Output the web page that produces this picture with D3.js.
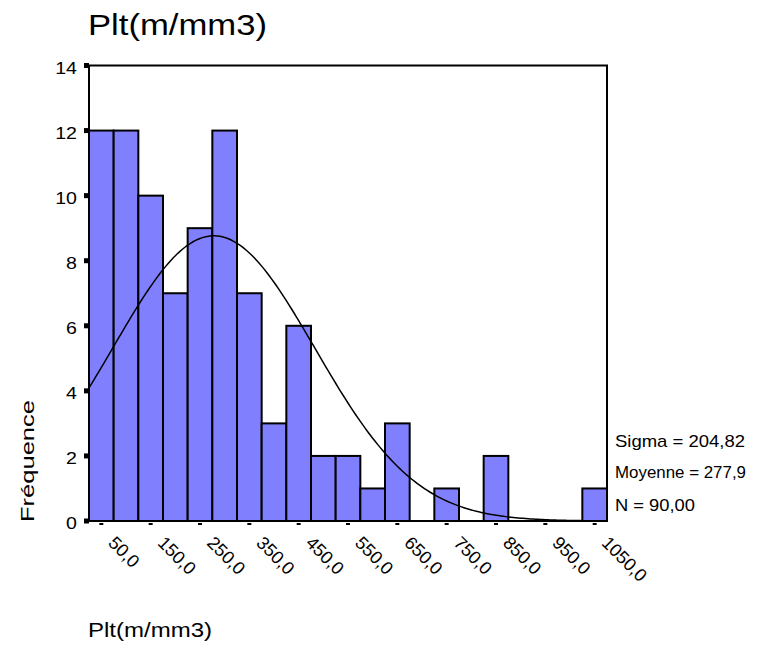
<!DOCTYPE html>
<html>
<head>
<meta charset="utf-8">
<script src="https://cdn.jsdelivr.net/npm/d3@7"></script>
<style>
  html, body { margin: 0; padding: 0; background: #fff; }
  svg { display: block; }
  text { font-family: "Liberation Sans", Arial, sans-serif; fill: #000; }
</style>
</head>
<body>
<svg id="chart" width="765" height="646"></svg>
<script>
// Histogram of platelet counts: bins of width 50, labelled by their midpoints
const binMidpoints = [50,100,150,200,250,300,350,400,450,500,550,600,650,700,750,800,850,900,950,1000,1050];
const frequencies  = [12,12,10,7,9,12,7,3,6,2,2,1,3,0,1,0,2,0,0,0,1];
const xTickValues  = [50,150,250,350,450,550,650,750,850,950,1050];
const yTickValues  = [0,2,4,6,8,10,12,14];
const binWidth = 50;
const stats = { sigma: 204.82, mean: 277.9, n: 90 };
const statLines = ["Sigma = 204,82", "Moyenne = 277,9", "N = 90,00"];
const titleText = "Plt(m/mm3)";
const yLabel = "Fréquence";

const svg = d3.select("#chart");
const plot = { left: 89, right: 607, top: 65.5, bottom: 521 };

const x = d3.scaleLinear()
  .domain([binMidpoints[0] - binWidth / 2, binMidpoints[binMidpoints.length - 1] + binWidth / 2])
  .range([plot.left, plot.right]);
const y = d3.scaleLinear().domain([0, 14]).range([plot.bottom, plot.top]);

const fmt = v => v.toFixed(1).replace(".", ",");

// Title
svg.append("text")
  .attr("x", 88).attr("y", 35)
  .attr("font-size", 30)
  .attr("textLength", 179).attr("lengthAdjust", "spacingAndGlyphs")
  .text(titleText);

// Bars
svg.append("g").selectAll("rect")
  .data(binMidpoints.map((m, i) => ({ m, f: frequencies[i] })).filter(d => d.f > 0))
  .join("rect")
  .attr("x", d => x(d.m - binWidth / 2))
  .attr("width", d => x(d.m + binWidth / 2) - x(d.m - binWidth / 2))
  .attr("y", d => y(d.f))
  .attr("height", d => y(0) - y(d.f))
  .attr("fill", "#8080ff")
  .attr("stroke", "#000")
  .attr("stroke-width", 2);

// Normal curve scaled to counts
const peak = stats.n * binWidth / (stats.sigma * Math.sqrt(2 * Math.PI));
const curvePts = d3.range(x.domain()[0], x.domain()[1] + 0.1, 5)
  .map(v => [v, peak * Math.exp(-0.5 * Math.pow((v - stats.mean) / stats.sigma, 2))]);
svg.append("clipPath").attr("id", "plotClip")
  .append("rect").attr("x", plot.left).attr("y", plot.top)
  .attr("width", plot.right - plot.left).attr("height", plot.bottom - plot.top);
svg.append("path")
  .datum(curvePts)
  .attr("clip-path", "url(#plotClip)")
  .attr("fill", "none")
  .attr("stroke", "#000")
  .attr("stroke-width", 1.5)
  .attr("d", d3.line().x(d => x(d[0])).y(d => y(d[1])).curve(d3.curveLinear));

// Frame
svg.append("rect")
  .attr("x", plot.left).attr("y", plot.top)
  .attr("width", plot.right - plot.left).attr("height", plot.bottom - plot.top)
  .attr("fill", "none").attr("stroke", "#000").attr("stroke-width", 2);

// Y axis: square tick marks and labels
const yAxis = svg.append("g");
yAxis.selectAll("rect")
  .data(yTickValues).join("rect")
  .attr("x", 84).attr("y", d => y(d) - 2.5)
  .attr("width", 5).attr("height", 5).attr("fill", "#000");
yAxis.selectAll("text")
  .data(yTickValues).join("text")
  .attr("x", 77).attr("y", d => y(d) + 8.4)
  .attr("text-anchor", "end")
  .attr("font-size", 17)
  .text(d => d)
  .each(function () {
    const w = this.getComputedTextLength();
    d3.select(this).attr("textLength", w * 1.15).attr("lengthAdjust", "spacingAndGlyphs");
  });

// X axis: short dashes below the frame and rotated labels
const xAxis = svg.append("g");
xAxis.selectAll("rect")
  .data(xTickValues).join("rect")
  .attr("x", d => x(d) - 2).attr("y", 523)
  .attr("width", 4).attr("height", 2).attr("fill", "#000");
xAxis.selectAll("text")
  .data(xTickValues).join("text")
  .attr("transform", d => `translate(${x(d) + 6},544) rotate(45)`)
  .attr("font-size", 18)
  .text(d => fmt(d));

// Axis titles
svg.append("text")
  .attr("transform", "translate(34,461) rotate(-90)")
  .attr("text-anchor", "middle")
  .attr("font-size", 19)
  .attr("textLength", 122).attr("lengthAdjust", "spacingAndGlyphs")
  .text(yLabel);
svg.append("text")
  .attr("x", 88).attr("y", 637)
  .attr("font-size", 20.5)
  .attr("textLength", 124).attr("lengthAdjust", "spacingAndGlyphs")
  .text(titleText);

// Summary statistics
const statY = [446.5, 477.5, 510.5];
const statW = [130, 131, 80];
svg.append("g").selectAll("text")
  .data(statLines).join("text")
  .attr("x", 615).attr("y", (d, i) => statY[i])
  .attr("font-size", 17)
  .attr("textLength", (d, i) => statW[i]).attr("lengthAdjust", "spacingAndGlyphs")
  .text(d => d);
</script>
</body>
</html>
